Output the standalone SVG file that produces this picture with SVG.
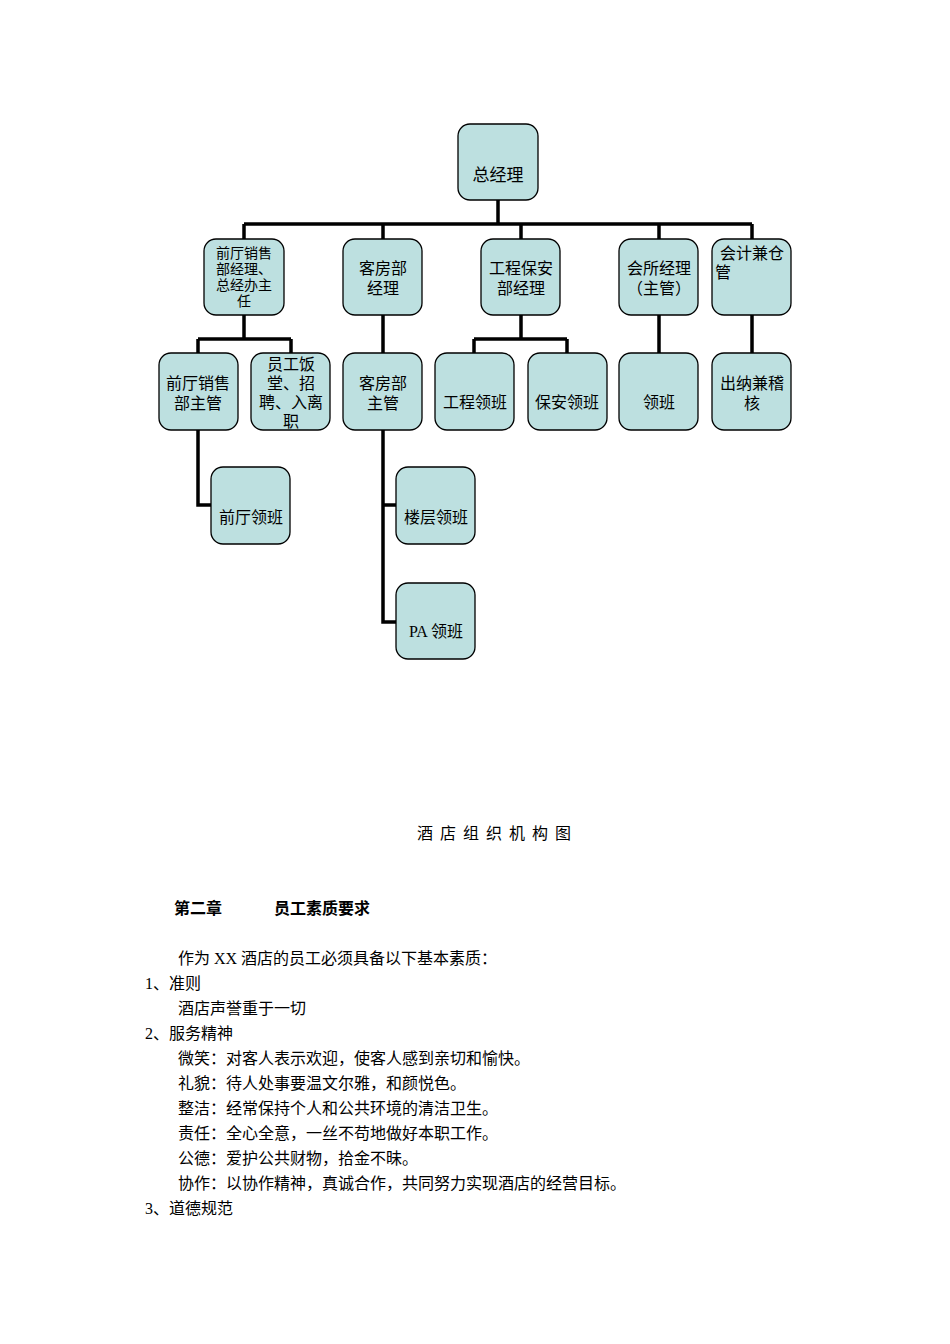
<svg xmlns="http://www.w3.org/2000/svg" width="950" height="1344" viewBox="0 0 950 1344">
<style>
.n rect{fill:#BDE0E0;stroke:#000;stroke-width:1.3}
.n text,.t{font-family:"Liberation Serif","Noto Sans CJK SC",serif;font-size:16px;fill:#000}
.n text{text-anchor:middle}
.s text{font-size:14px}
.c{fill:none;stroke:#000;stroke-width:3.5}
</style>
<rect width="950" height="1344" fill="#fff"/>
<g id="connectors">
<path class="c" d="M498 200V224M244 224H752M244 224V239M383 224V239M521 224V239M659 224V239M752 224V239"/>
<path class="c" d="M244 315V339M198 339H291M198 339V353M291 339V353"/>
<path class="c" d="M383 315V353M659 315V353M752 315V353"/>
<path class="c" d="M521 315V339M474 339H567M474 339V353M567 339V353"/>
<path class="c" d="M198 430V505H211"/>
<path class="c" d="M383 430V622H396M383 505H396"/>
</g>
<g id="n0" class="n"><rect x="458" y="124" width="80" height="76" rx="12"/><text x="498" y="181" style="font-size:17px">总经理</text></g>
<g id="n1" class="n s"><rect x="204" y="239" width="80" height="76" rx="12"/><text x="244" y="258">前厅销售</text><text x="244" y="274">部经理、</text><text x="244" y="290">总经办主</text><text x="244" y="306">任</text></g>
<g id="n2" class="n"><rect x="343" y="239" width="79" height="76" rx="12"/><text x="383" y="274">客房部</text><text x="383" y="294">经理</text></g>
<g id="n3" class="n"><rect x="481" y="239" width="79" height="76" rx="12"/><text x="521" y="274">工程保安</text><text x="521" y="294">部经理</text></g>
<g id="n4" class="n"><rect x="619" y="239" width="79" height="76" rx="12"/><text x="659" y="274">会所经理</text><text x="659" y="294">（主管）</text></g>
<g id="n5" class="n"><rect x="712" y="239" width="79" height="76" rx="12"/><text x="752" y="259">会计兼仓</text><text x="723" y="278">管</text></g>
<g id="n6" class="n"><rect x="159" y="353" width="79" height="77" rx="12"/><text x="198" y="389">前厅销售</text><text x="198" y="409">部主管</text></g>
<g id="n7" class="n"><rect x="251" y="353" width="79" height="77" rx="12"/><text x="291" y="370">员工饭</text><text x="291" y="389">堂、招</text><text x="291" y="408">聘、入离</text><text x="291" y="427">职</text></g>
<g id="n8" class="n"><rect x="343" y="353" width="79" height="77" rx="12"/><text x="383" y="389">客房部</text><text x="383" y="409">主管</text></g>
<g id="n9" class="n"><rect x="435" y="353" width="79" height="77" rx="12"/><text x="475" y="408">工程领班</text></g>
<g id="n10" class="n"><rect x="528" y="353" width="79" height="77" rx="12"/><text x="567" y="408">保安领班</text></g>
<g id="n11" class="n"><rect x="619" y="353" width="79" height="77" rx="12"/><text x="659" y="408">领班</text></g>
<g id="n12" class="n"><rect x="712" y="353" width="79" height="77" rx="12"/><text x="752" y="389">出纳兼稽</text><text x="752" y="409">核</text></g>
<g id="n13" class="n"><rect x="211" y="467" width="79" height="77" rx="12"/><text x="251" y="523">前厅领班</text></g>
<g id="n14" class="n"><rect x="396" y="467" width="79" height="77" rx="12"/><text x="436" y="523">楼层领班</text></g>
<g id="n15" class="n"><rect x="396" y="583" width="79" height="76" rx="12"/><text x="436" y="637">PA 领班</text></g>
<text class="t" x="417" y="839" style="letter-spacing:7px">酒店组织机构图</text>
<text class="t" x="174" y="914" font-weight="bold">第二章</text>
<text class="t" x="274" y="914" font-weight="bold">员工素质要求</text>
<text class="t" x="178" y="964">作为 XX 酒店的员工必须具备以下基本素质：</text>
<text class="t" x="145" y="989">1、准则</text>
<text class="t" x="178" y="1014">酒店声誉重于一切</text>
<text class="t" x="145" y="1039">2、服务精神</text>
<text class="t" x="178" y="1064">微笑：对客人表示欢迎，使客人感到亲切和愉快。</text>
<text class="t" x="178" y="1089">礼貌：待人处事要温文尔雅，和颜悦色。</text>
<text class="t" x="178" y="1114">整洁：经常保持个人和公共环境的清洁卫生。</text>
<text class="t" x="178" y="1139">责任：全心全意，一丝不苟地做好本职工作。</text>
<text class="t" x="178" y="1164">公德：爱护公共财物，拾金不昧。</text>
<text class="t" x="178" y="1189">协作：以协作精神，真诚合作，共同努力实现酒店的经营目标。</text>
<text class="t" x="145" y="1214">3、道德规范</text>
</svg>
